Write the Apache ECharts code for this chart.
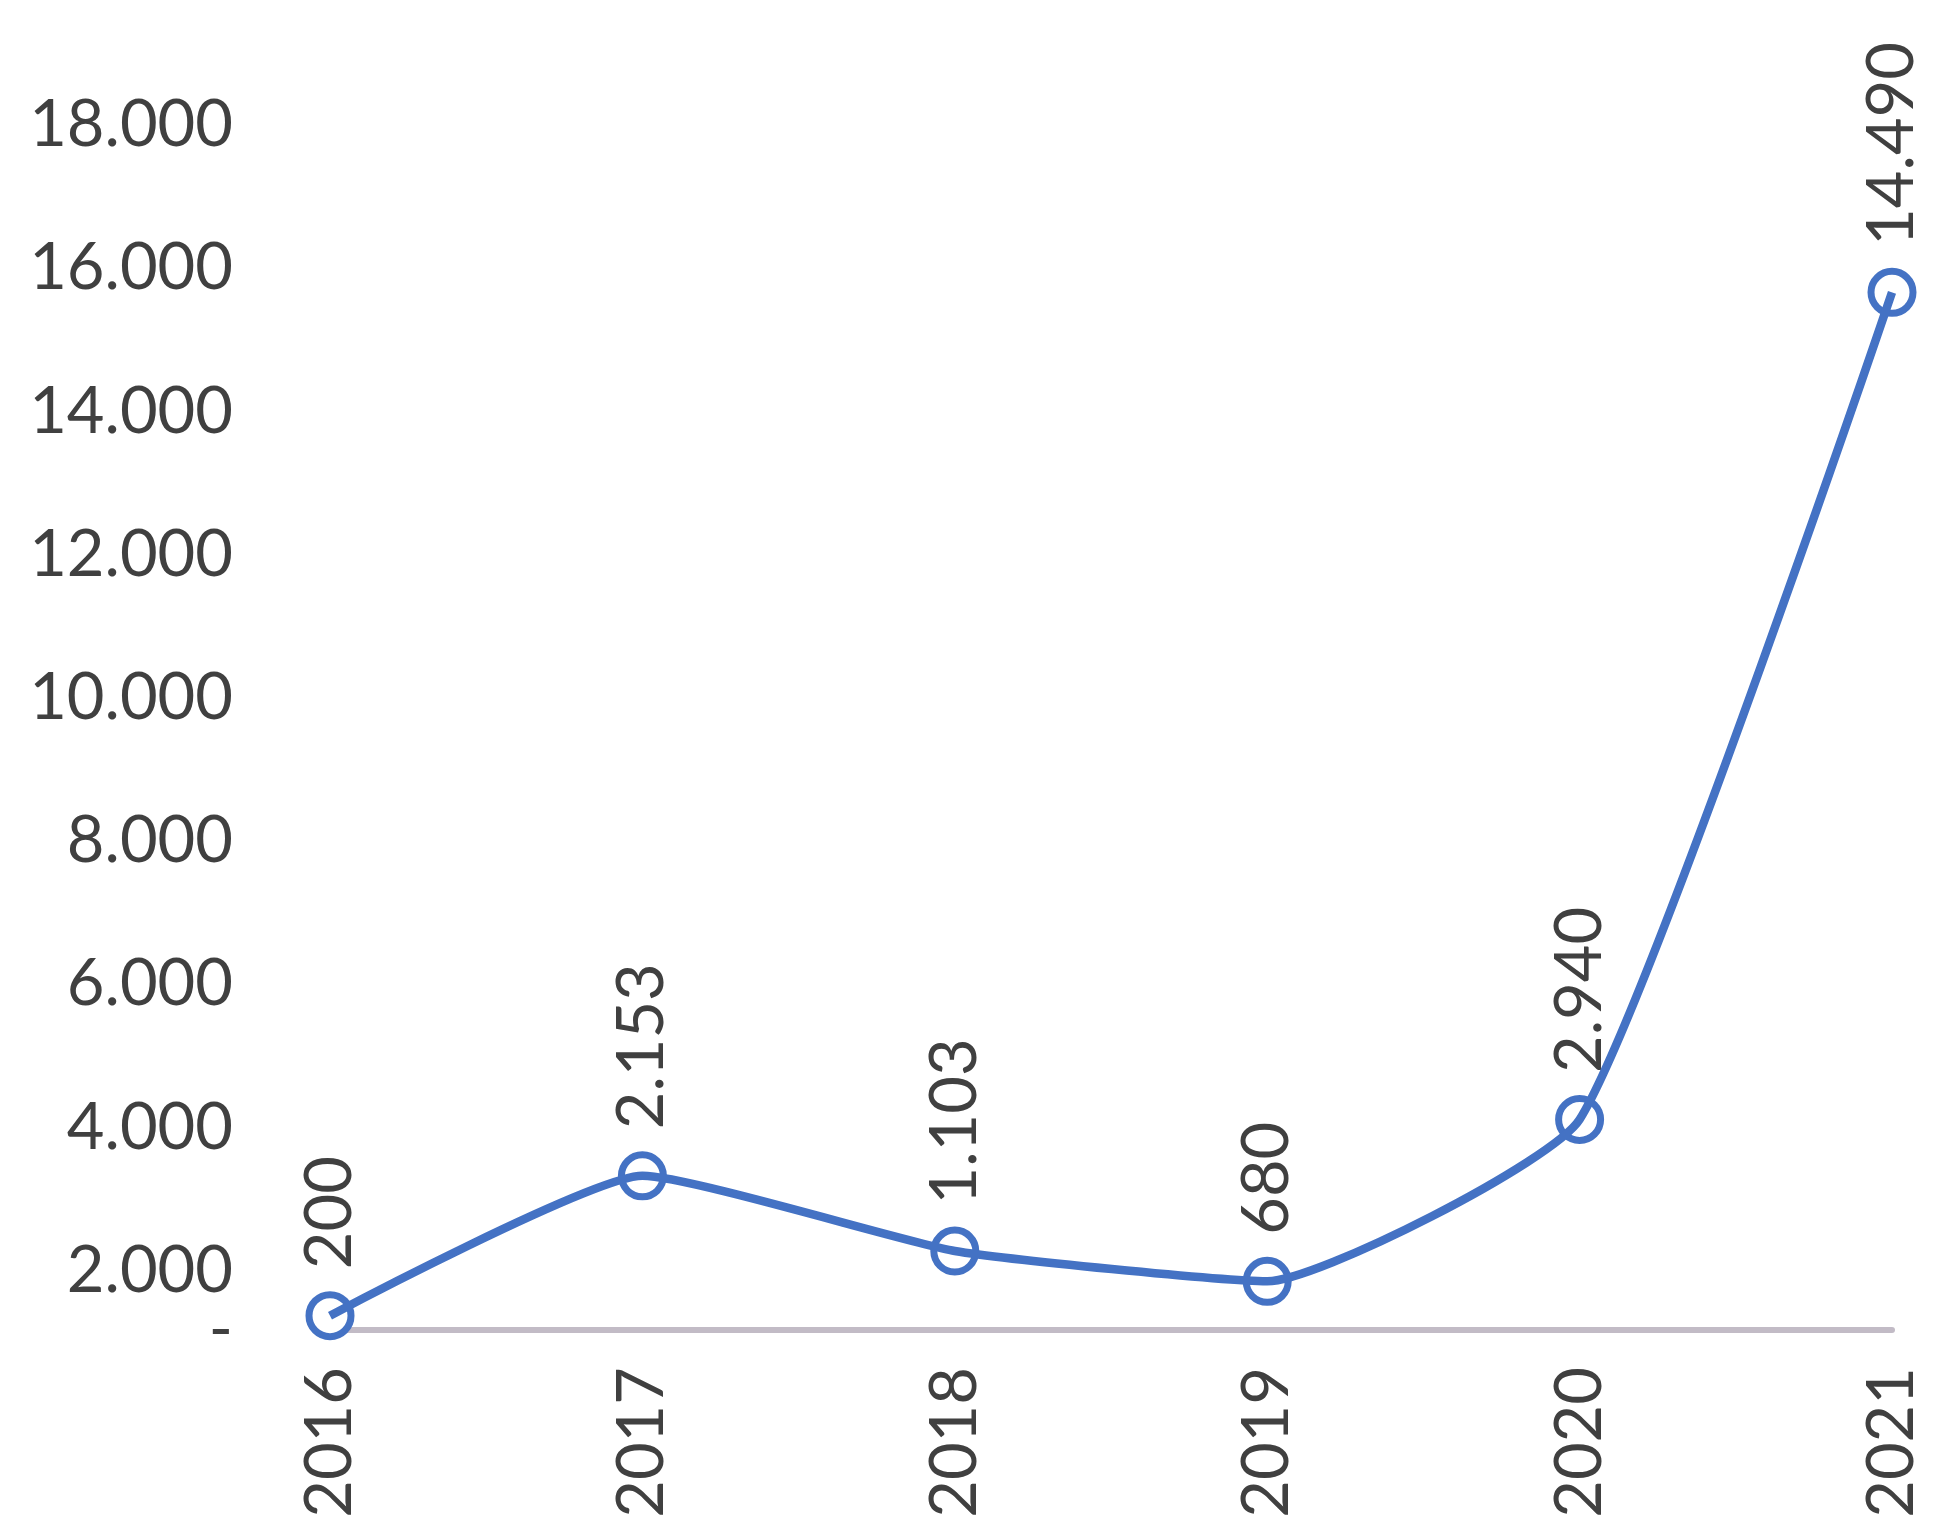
<!DOCTYPE html>
<html><head><meta charset="utf-8">
<script src="https://cdn.jsdelivr.net/npm/echarts@6/dist/echarts.min.js"></script>
<style>html,body{margin:0;padding:0;background:#fff}#c{width:1949px;height:1534px}</style>
</head><body><div id="c"></div>
<script>
const years = ['2016', '2017', '2018', '2019', '2020', '2021'];
const values = [200, 2153, 1103, 680, 2940, 14490];
const yTickLabels = [2000, 4000, 6000, 8000, 10000, 12000, 14000, 16000, 18000];
const zeroLabel = '-';
// In the reference, printed tick labels sit ~1,175 units below their printed value
const labelShift = 1175;

function fmt(v) { return v === 0 ? zeroLabel : String(v).replace(/\B(?=(\d{3})+(?!\d))/g, '.'); }
const tickPos = yTickLabels.map(v => v - labelShift);
function tickLabel(v) {
  let best = 0, bd = Infinity;
  tickPos.forEach((p, i) => { const d = Math.abs(p - v); if (d < bd) { bd = d; best = i; } });
  return fmt(yTickLabels[best]);
}
const TEXT = '#404040';
const BLUE = '#4472c4';
const labelFont = { color: TEXT, fontFamily: 'Lato', fontSize: 65 };
const chart = echarts.init(document.getElementById('c'));
chart.setOption({
  animation: false,
  backgroundColor: '#ffffff',
  grid: { left: 330, right: 57, top: 41, bottom: 204, containLabel: false },
  xAxis: {
    type: 'category', data: years, boundaryGap: false,
    axisLine: { lineStyle: { color: '#c2bbc6', width: 6 } },
    axisTick: { show: false },
    axisLabel: Object.assign({ rotate: 90, margin: 37 }, labelFont)
  },
  yAxis: [{
    type: 'value', min: 0, max: 18000,
    splitLine: { show: false }, axisLine: { show: false }, axisTick: { show: false },
    axisLabel: Object.assign({ customValues: tickPos, formatter: tickLabel, margin: 97 }, labelFont)
  }, {
    type: 'value', min: 0, max: 18000, position: 'left',
    splitLine: { show: false }, axisLine: { show: false }, axisTick: { show: false },
    axisLabel: Object.assign({ customValues: [0], formatter: () => zeroLabel, margin: 97 }, labelFont)
  }],
  series: [{
    // hollow markers with data labels, drawn beneath the line
    type: 'line', data: values, z: 2, symbol: 'circle', symbolSize: 42, showAllSymbol: true,
    lineStyle: { width: 0, opacity: 0 },
    itemStyle: { color: '#ffffff', borderColor: BLUE, borderWidth: 7 },
    label: Object.assign({
      show: true, position: 'top', rotate: 90, align: 'left', verticalAlign: 'middle',
      distance: 22, formatter: p => fmt(p.value)
    }, labelFont)
  }, {
    type: 'line', data: values, z: 3, smooth: 0.15, showSymbol: false, symbol: 'none',
    lineStyle: { color: BLUE, width: 8.5, join: 'round' }
  }]
});
</script></body></html>
